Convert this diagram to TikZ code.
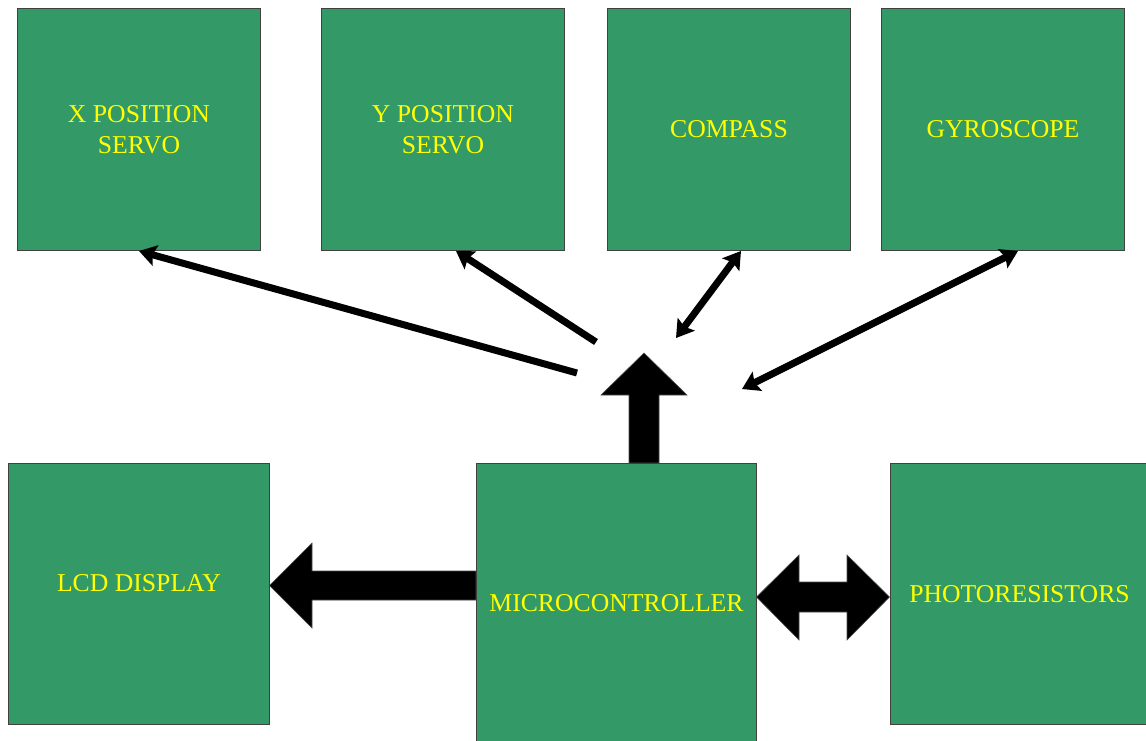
\documentclass[tikz,border=0pt]{standalone}
\usepackage{fontspec}
\setmainfont{Liberation Serif}
\usetikzlibrary{arrows.meta}
\definecolor{blockgreen}{HTML}{339966}
\definecolor{labelyellow}{HTML}{FFFF00}
\tikzset{
  block/.style={rectangle, anchor=north west, inner sep=0pt, fill=blockgreen,
    draw=black!75, line width=1pt, text=labelyellow, align=center,
    font=\fontsize{25.7pt}{31pt}\selectfont},
  link/.style={line width=7pt, -{Stealth[length=17pt,width=21pt,inset=3pt]}},
  duplex/.style={line width=7pt, {Stealth[length=17pt,width=21pt,inset=3pt]}-{Stealth[length=17pt,width=21pt,inset=3pt]}},
  bigarrow/.style={fill=black, draw=black!70, line width=0.6pt, line join=miter}
}
\begin{document}
\begin{tikzpicture}[x=1pt,y=-1pt]
\useasboundingbox (0,0) rectangle (1146,740);

% peripheral blocks
\node[block, minimum width=243pt, minimum height=242pt] (xservo) at (17,8) {X POSITION\\SERVO};
\node[block, minimum width=243pt, minimum height=242pt] (yservo) at (321,8) {Y POSITION\\SERVO};
\node[block, minimum width=243pt, minimum height=242pt] (compass) at (607,8) {COMPASS};
\node[block, minimum width=243pt, minimum height=242pt] (gyro) at (881,8) {GYROSCOPE};

\node[block, minimum width=261pt, minimum height=261pt] (lcd) at (8,463) {\raisebox{23pt}{LCD DISPLAY}};
\node[block, minimum width=280pt, minimum height=284pt] (mcu) at (476,463) {\raisebox{5pt}{MICROCONTROLLER}};
\node[block, minimum width=262pt, minimum height=261pt] (photo) at (890,463) {\hspace*{-4pt}PHOTORESISTORS};

% free ends of the thin connectors
\coordinate (tx) at (577,373);
\coordinate (ty) at (596,342);
\coordinate (tc) at (676,338);
\coordinate (tg) at (742,389);

\draw[link] (tx) -- (xservo.south);
\draw[link] (ty) -- ([xshift=13pt]yservo.south);
\draw[duplex] (tc) -- ([xshift=12pt]compass.south);
\draw[duplex] (tg) -- ([xshift=15pt]gyro.south);

% block arrow up from the microcontroller
\draw[bigarrow] (629,463) -- (629,395) -- (601,395) -- (644,353) -- (687,395) -- (659,395) -- (659,463) -- cycle;

% block arrow to the LCD display
\draw[bigarrow] (476,571) -- (312,571) -- (312,543) -- (269.5,585.5) -- (312,628) -- (312,600) -- (476,600) -- cycle;

% two-way block arrow between microcontroller and photoresistors
\draw[bigarrow] (756.5,597) -- (799,555) -- (799,582) -- (847,582) -- (847,555) -- (889.5,597)
  -- (847,640) -- (847,612) -- (799,612) -- (799,640) -- cycle;
\end{tikzpicture}
\end{document}
